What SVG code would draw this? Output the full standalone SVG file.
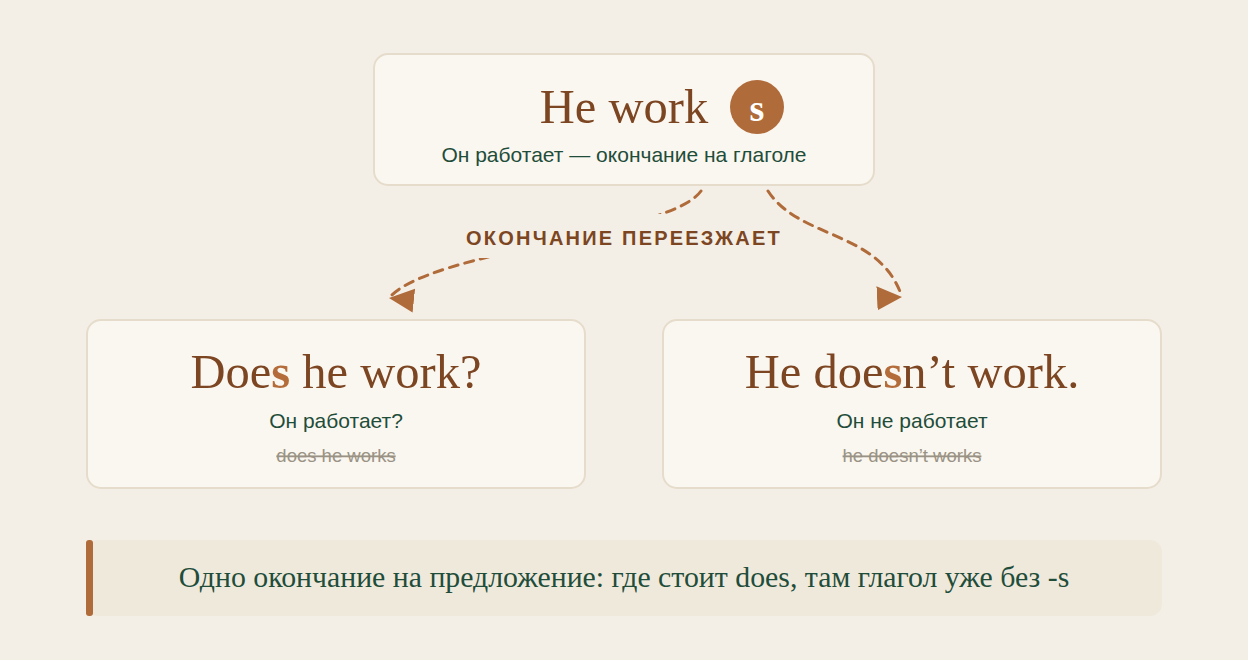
<svg xmlns="http://www.w3.org/2000/svg" width="1248" height="660" viewBox="0 0 1248 660">
  <defs>
    <style>
      .bg { fill: #f4efe6; }
      .node { fill: #faf7f0; stroke: #e6dccb; stroke-width: 2; }
      .title { font-family: "Liberation Serif", "DejaVu Serif", serif; font-size: 48.5px; fill: #7d4622; text-anchor: middle; }
      .hl { fill: #b46d3a; font-weight: bold; }
      .sub { font-family: "Liberation Sans", Arial, sans-serif; font-size: 21px; fill: #1f4d3a; text-anchor: middle; }
      .strike { font-family: "Liberation Sans", Arial, sans-serif; font-size: 18.5px; fill: #9a9385; text-anchor: middle; text-decoration: line-through; }
      .conn { fill: none; stroke: #b06b3a; stroke-width: 3; stroke-dasharray: 9 7; stroke-linecap: round; }
      .lbl { font-family: "Liberation Sans", Arial, sans-serif; font-size: 20px; font-weight: bold; fill: #7d4622; letter-spacing: 2.2px; text-anchor: middle; }
      .note { font-family: "Liberation Serif", "DejaVu Serif", serif; font-size: 29.8px; fill: #1f4d3a; text-anchor: middle; }
    </style>
    <marker id="ahL" markerWidth="26" markerHeight="26" refX="25" refY="13" orient="186" markerUnits="userSpaceOnUse">
      <path d="M0,1 L25,13 L0,25 Z" fill="#b06b3a"/>
    </marker>
    <marker id="ahR" markerWidth="26" markerHeight="26" refX="25" refY="13" orient="-3" markerUnits="userSpaceOnUse">
      <path d="M0,1 L25,13 L0,25 Z" fill="#b06b3a"/>
    </marker>
  </defs>
  <rect class="bg" x="0" y="0" width="1248" height="660"/>

  <g id="connectors">
    <path class="conn" d="M701,191 C670,235 430,250 389,298" marker-end="url(#ahL)"/>
    <path class="conn" d="M768,191 C800,240 880,230 902,297" marker-end="url(#ahR)"/>
    <rect x="466" y="214" width="318" height="44" fill="#f4efe6"/>
    <text class="lbl" x="624" y="245">ОКОНЧАНИЕ ПЕРЕЕЗЖАЕТ</text>
  </g>

  <g id="node-he-works">
    <rect class="node" x="374" y="54" width="500" height="131" rx="14"/>
    <text class="title" x="624" y="123">He work</text>
    <circle cx="757" cy="107" r="27" fill="#b06b3a"/>
    <text x="757" y="121" font-family="Liberation Serif, DejaVu Serif, serif" font-size="38" font-weight="bold" fill="#ffffff" text-anchor="middle">s</text>
    <text class="sub" x="624" y="162">Он работает — окончание на глаголе</text>
  </g>

  <g id="node-question">
    <rect class="node" x="87" y="320" width="498" height="168" rx="14"/>
    <text class="title" x="336" y="388">Doe<tspan class="hl">s</tspan> he work?</text>
    <text class="sub" x="336" y="428">Он работает?</text>
    <text class="strike" x="336" y="462">does he works</text>
  </g>

  <g id="node-negative">
    <rect class="node" x="663" y="320" width="498" height="168" rx="14"/>
    <text class="title" x="912" y="388">He doe<tspan class="hl">s</tspan>n’t work.</text>
    <text class="sub" x="912" y="428">Он не работает</text>
    <text class="strike" x="912" y="462">he doesn’t works</text>
  </g>

  <g id="note">
    <rect x="86" y="540" width="1076" height="76" rx="12" fill="#efe9dc"/>
    <rect x="86" y="540" width="7" height="76" rx="3" fill="#b06b3a"/>
    <text class="note" x="624" y="587">Одно окончание на предложение: где стоит does, там глагол уже без -s</text>
  </g>
</svg>
